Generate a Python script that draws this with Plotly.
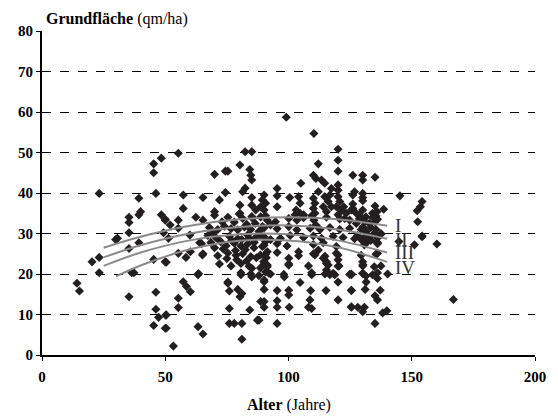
import plotly.graph_objects as go

# ---- data ----
pts = [
 (45.3,47.2),(48.4,48.6),(45.3,45.0),(23.2,39.9),(46.2,39.9),(39.3,38.7),(48.4,34.6),(50.0,33.5),(40.0,35.4),(39.3,34.6),(35.3,34.0),(35.3,32.7),(30.6,28.8),
 (35.3,30.2),(49.3,30.2),(29.9,28.5),(39.3,27.7),(35.3,26.3),(20.3,23.0),(23.2,24.1),(23.2,20.3),(45.3,23.6),(50.0,23.0),(36.4,20.3),(37.3,20.3),(14.2,17.7),(15.2,15.8),(35.3,14.4),(46.2,15.5),(46.2,11.3),(47.3,9.3),(50.2,9.8),(45.3,7.3),(50.0,6.6),
 (55.3,49.8),(82.4,50.2),(85.1,50.2),(80.3,46.9),(70.0,44.6),(74.4,45.4),(75.4,45.4),(84.3,45.8),(84.7,44.4),(85.1,43.2),(57.3,39.5),(65.3,38.9),(74.4,40.1),(82.4,41.2),(81.4,40.3),(72.0,38.3),(85.1,38.9),(80.3,37.0),(85.1,37.0),(86.7,35.8),(57.3,36.2),(70.0,35.4),(80.3,35.0),(50.0,33.3),(55.3,33.3),(62.4,34.0),(65.3,33.3),(81.4,33.7),(85.1,34.2),(52.0,32.1),(55.3,31.3),(60.0,29.6),(51.3,28.8),
 (50.4,22.9),(55.3,25.1),(58.4,24.1),(60.2,25.5),(65.1,24.7),(64.0,27.7),(63.3,19.8),(57.3,18.1),(58.6,16.9),(60.2,15.6),(55.3,14.0),(55.3,11.7),(50.4,9.9),(50.4,6.6),(53.3,2.2),(63.3,7.0),(65.3,5.2),(75.4,17.7),(76.0,15.8),(79.4,16.2),(81.1,15.2),(80.3,14.4),(76.0,11.5),(84.3,11.1),(76.0,7.8),(78.0,7.8),(81.1,7.8),(81.1,3.9),(80.7,19.8),(85.1,19.3),(85.1,21.4),(88.7,13.2),(88.0,8.6),
 (99.1,58.7),(110.3,54.7),(120.1,50.8),(120.1,48.1),(120.1,45.4),(112.1,47.2),(110.1,44.4),(111.1,43.6),(113.4,43.2),(114.7,42.4),(105.0,42.4),(95.4,41.1),(112.1,40.3),(120.1,42.0),(120.1,40.7),(117.4,41.1),(126.8,40.3),(95.4,39.3),(90.1,39.5),(89.4,38.3),(90.7,37.5),(88.7,36.6),(100.5,38.9),(95.4,36.6),(104.1,39.1),(104.7,37.5),(103.1,35.8),(104.7,35.0),(103.4,33.3),(110.1,38.7),(110.7,37.5),(110.1,36.2),(110.7,35.0),(110.3,33.3),(111.1,32.1),(114.7,39.1),(116.1,37.9),(116.8,39.5),(114.1,36.6),(117.4,36.6),(115.4,35.4),(120.1,39.1),(120.8,37.9),(119.4,36.6),(121.4,35.8),(120.1,34.6),(122.4,36.6),(123.4,35.0),(125.5,35.8),(122.8,33.7),(124.8,33.3),(100.1,33.7),(106.1,34.6),(90.1,35.8),(88.7,34.1),(91.4,33.3),(92.7,32.1),(89.4,31.7),(94.7,32.9),
 (100.1,23.9),(100.1,22.2),(104.1,25.5),(98.3,19.3),(109.4,19.8),(112.1,25.9),(110.7,24.7),(114.1,23.9),(115.4,23.0),(116.1,22.2),(120.1,24.7),(120.1,23.5),(120.5,22.0),(115.4,21.0),(116.8,19.8),(118.8,19.8),(125.5,19.8),(90.1,16.2),(95.4,15.9),(100.1,16.0),(100.1,14.8),(109.0,15.9),(115.2,15.9),(125.5,15.9),(90.1,13.2),(90.1,11.8),(95.4,13.4),(95.4,11.8),(100.3,11.8),(108.7,13.6),(108.1,11.8),(109.4,11.5),(120.1,13.6),(125.5,11.8),(87.4,8.6),(95.4,7.8),
 (88.6,29.6),(90.7,28.0),(92.7,28.5),(89.4,26.8),(91.4,25.5),(88.6,24.7),(91.0,24.0),(89.9,23.0),(91.4,22.2),(88.6,21.5),(90.7,20.5),(88.0,19.6),(92.7,20.0),(90.1,18.5),
 (126.1,44.4),(130.1,44.4),(130.1,43.2),(135.1,43.9),(145.2,39.3),(126.1,39.5),(130.1,39.9),(130.1,38.9),(130.1,38.1),(126.1,37.3),(126.1,36.2),(127.5,35.0),(130.1,35.8),(131.4,34.1),(130.8,32.9),(128.8,33.7),(127.5,32.5),(132.8,32.5),(135.1,36.8),(135.9,35.4),(134.1,35.0),(135.5,34.3),(135.1,32.9),(138.6,36.0),(154.2,37.9),(153.5,36.6),(152.2,35.6),(152.4,32.9),(154.2,29.2),
 (129.5,31.0),(131.5,30.5),(133.4,31.5),(134.8,30.0),(137.5,30.0),(132.8,29.2),
 (128.0,29.5),(130.8,29.0),(133.4,28.3),(131.4,27.6),(136.1,27.8),(137.5,29.8),(129.5,28.5),(154.2,29.4),(151.1,27.2),(160.2,27.4),(144.8,28.0),(136.1,25.1),(130.1,23.0),(130.1,22.0),(134.8,21.8),(140.2,20.0),(125.5,20.0),(130.1,20.2),(131.4,19.5),(134.1,19.8),(136.1,18.9),(125.5,16.0),(131.1,16.2),(137.2,16.0),(135.1,14.6),(136.1,13.6),(166.9,13.7),(128.1,11.8),(130.8,11.8),(130.1,10.7),(138.2,10.4),(139.9,10.9),(135.1,7.8),(125.5,11.9),
 (70.0,34.5),(75.4,34.0),(80.0,34.8),(85.4,33.8),(90.7,34.4),(102.7,34.6),(106.1,33.9),(109.4,34.4),(115.4,34.0),(120.8,33.6),(128.8,34.5),(134.1,34.0),(136.1,33.5),
 (67.9,31.5),(71.3,31.0),(74.0,31.8),(76.7,31.2),(79.4,30.9),(82.1,31.6),(84.7,31.0),(90.1,31.4),(95.4,31.2),(100.1,31.7),(103.4,30.9),(108.8,31.3),(112.8,31.0),(116.8,31.5),(120.8,31.0),(124.8,31.3),(130.2,31.6),(135.5,31.0),
 (67.3,29.5),(70.7,28.9),(76.0,29.3),(79.4,28.7),(83.4,29.6),(86.7,29.0),(90.1,29.2),(96.7,28.8),(100.7,29.5),(106.1,29.0),(110.1,29.4),(113.4,28.8),(118.1,29.3),(122.1,29.0),(126.8,28.7),(131.5,29.2),(136.1,28.9),
 (64.7,27.5),(74.7,27.0),(78.0,27.6),(80.7,26.9),(83.4,27.4),(86.1,27.8),(90.1,27.1),(95.4,27.5),(99.4,26.9),(110.1,27.3),(114.1,27.7),(119.4,26.8),(130.8,27.2),(136.1,27.5),
 (65.3,25.0),(71.3,24.5),(75.4,25.2),(78.7,24.6),(81.4,25.0),(84.7,24.3),(90.7,24.9),(95.4,25.3),(104.1,24.5),(110.1,25.0),(114.8,24.4),(119.4,25.1),(129.5,24.6),(135.5,24.9),
 (72.0,22.5),(76.7,22.0),(80.7,22.6),(84.0,21.9),(90.1,22.4),(91.4,21.8),(100.1,22.5),(108.1,22.0),(115.4,22.6),(120.1,21.9),(130.2,22.3),(137.5,22.0),
 (63.5,20.1),(80.7,20.3),(84.7,20.0),(92.0,20.2),(98.1,19.9),(109.4,20.3),(114.8,20.0),(118.1,20.2),(124.8,19.9),(130.2,20.1),(136.1,20.3),
 (75.4,18.0),(90.1,18.1),(104.7,17.9),(120.1,18.0),(131.5,18.0),
 (69.5,30.2),(72.5,28.0),(73.5,26.2),(77.0,28.3),(78.5,25.8),(81.0,28.5),(82.5,26.0),(84.0,28.8),(86.0,26.5),(87.0,24.0),(83.0,23.2),(79.0,23.5),(75.0,23.8),(70.0,26.5),(68.5,27.8),(88.0,30.5),(86.5,32.5),(83.0,32.3),(78.0,32.8),(73.0,32.9),
]
alter = [p[0] for p in pts]
grundflaeche = [p[1] for p in pts]

# yield-class curves (read at sample ages)
curve_x_I = [25, 40, 60, 80, 100, 120, 140]
curve_y_I = [26.5, 29.2, 31.9, 33.5, 34.0, 33.5, 31.9]
curve_x_II = [25, 40, 60, 80, 100, 120, 140]
curve_y_II = [24.1, 27.1, 30.0, 31.6, 32.0, 31.0, 28.7]
curve_x_III = [25, 40, 60, 80, 100, 120, 140]
curve_y_III = [22.0, 25.3, 28.3, 29.8, 29.8, 28.3, 25.3]
curve_x_IV = [30, 40, 60, 80, 100, 120, 140]
curve_y_IV = [19.4, 22.1, 26.1, 28.2, 28.3, 26.6, 23.0]

class_labels = ["I", "II", "III", "IV"]
class_label_y = [32.1, 28.4, 25.3, 21.7]

x_ticks = [0, 50, 100, 150, 200]
y_ticks = [0, 10, 20, 30, 40, 50, 60, 70, 80]

fig = go.Figure()
fig.add_trace(go.Scatter(x=alter, y=grundflaeche, mode="markers",
                         marker=dict(symbol="diamond", size=7, color="#231f20"),
                         showlegend=False))
for cx, cy in [(curve_x_I, curve_y_I), (curve_x_II, curve_y_II),
               (curve_x_III, curve_y_III), (curve_x_IV, curve_y_IV)]:
    fig.add_trace(go.Scatter(x=cx, y=cy, mode="lines",
                             line=dict(color="#8a8a8a", width=2, shape="spline"),
                             showlegend=False))

for lab, ly in zip(class_labels, class_label_y):
    fig.add_annotation(x=142.3, y=ly, text=lab, showarrow=False, xanchor="left",
                       yanchor="middle",
                       font=dict(family="Liberation Serif", size=19, color="#333333"))

fig.add_annotation(x=0.5, y=-0.154, xref="paper", yref="paper", showarrow=False,
                   text="<b>Alter</b> (Jahre)", xanchor="center", yanchor="middle",
                   font=dict(family="Liberation Serif", size=16, color="black"))
fig.add_annotation(x=0.0, y=1.0, xref="paper", yref="paper", showarrow=False,
                   text="<b>Grundfläche</b> (qm/ha)", xanchor="left", yanchor="bottom",
                   yshift=1, xshift=2,
                   font=dict(family="Liberation Serif", size=16, color="black"))

tick_font = dict(family="Liberation Serif", size=15, color="black", weight="bold")
fig.update_xaxes(range=[0, 200], tickvals=x_ticks, ticks="outside", ticklen=4,
                 tickcolor="black", showline=True, linecolor="black", linewidth=2,
                 showgrid=False, zeroline=False, tickfont=tick_font,
                 ticklabelstandoff=3)
fig.update_yaxes(range=[0, 80], tickvals=y_ticks, ticks="outside", ticklen=4,
                 tickcolor="black", showline=True, linecolor="black", linewidth=2,
                 showgrid=True, gridcolor="black", griddash="dash", gridwidth=1,
                 zeroline=False, tickfont=tick_font)

fig.update_layout(width=558, height=418, margin=dict(l=42, r=17, t=31, b=63),
                  plot_bgcolor="white", paper_bgcolor="white")
fig.write_html("out.html")
